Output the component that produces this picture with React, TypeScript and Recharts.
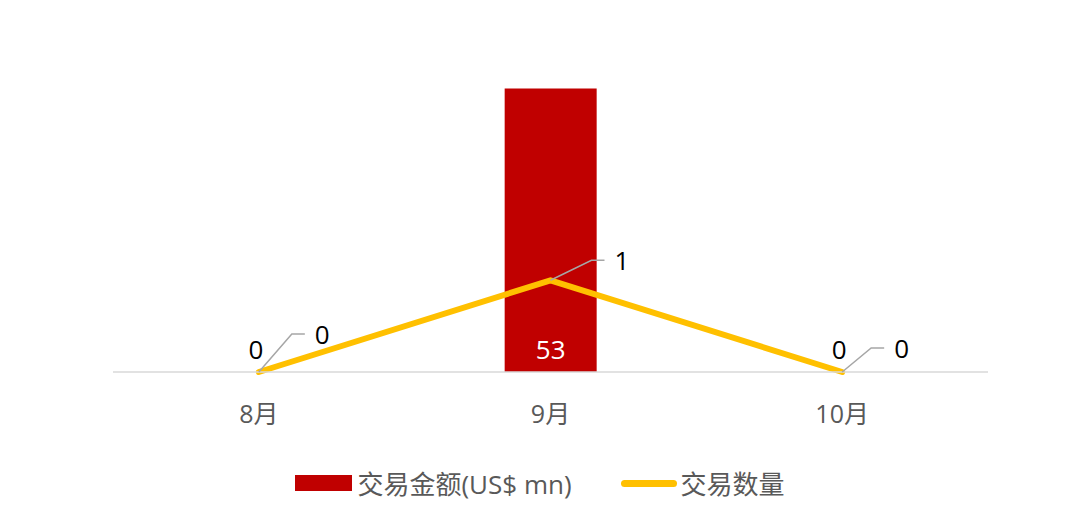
import React from "react";
import { ComposedChart, Bar, Line, XAxis, YAxis, Legend, LabelList } from "recharts";

const months = ["8月", "9月", "10月"];
const dealAmount = [0, 53, 0];
const dealCount = [0, 1, 0];

const RED = "#C00000";
const GOLD = "#FFC000";
const FONT = "'Open Sans', 'Noto Sans CJK SC', sans-serif";

const data = months.map((m, i) => ({ month: m, amount: dealAmount[i], count: dealCount[i] }));

// leader-line offsets for the count labels, as placed in the original
const leaders = [
  { dx: 33, dy: -38 },
  { dx: 41, dy: -20 },
  { dx: 29, dy: -24 },
];

// labels inside the bars (non-zero values)
const AmountLabel = (props: any) => {
  const { x, y, width, height, value } = props;
  if (!value) return null;
  return (
    <text x={x + width / 2} y={y + height - 23} textAnchor="middle" dominantBaseline="central" fill="#fff" fontSize={26} fontFamily={FONT}>
      {value}
    </text>
  );
};

// zero-value bar labels sit just above the axis
const ZeroAmountLabel = (props: any) => {
  const { x, y, value } = props;
  if (value !== 0) return null;
  return (
    <text x={x - 3} y={y - 23} textAnchor="middle" dominantBaseline="central" fill="#000" fontSize={26} fontFamily={FONT}>
      {value}
    </text>
  );
};

const CountLabel = (props: any) => {
  const { x, y, value, index } = props;
  const o = leaders[index] || { dx: 30, dy: -25 };
  const ex = x + o.dx;
  const ey = y + o.dy;
  return (
    <g>
      <path d={`M${x},${y}L${ex},${ey}L${ex + 13},${ey}`} stroke="#a6a6a6" strokeWidth={1.5} fill="none" />
      <text x={ex + 23} y={ey} textAnchor="start" dominantBaseline="central" fill="#000" fontSize={26} fontFamily={FONT}>
        {value}
      </text>
    </g>
  );
};

const LegendContent = () => (
  <div style={{ display: "flex", justifyContent: "center", alignItems: "center", height: 34, fontFamily: FONT, fontSize: 26, color: "#595959" }}>
    <span style={{ display: "inline-block", width: 57, height: 16, background: RED, marginRight: 5 }} />
    <span>交易金额(US$ mn)</span>
    <span style={{ display: "inline-block", width: 56, height: 7, borderRadius: 4, background: GOLD, marginLeft: 49, marginRight: 4 }} />
    <span>交易数量</span>
  </div>
);

export default function App() {
  return (
    <div style={{ position: "absolute", left: 0, top: 0, width: 1080, height: 528, background: "#fff" }}>
      <ComposedChart width={1080} height={528} data={data} margin={{ top: 51, right: 92, left: 113, bottom: 0 }}>
        <XAxis
          dataKey="month"
          height={122}
          tickLine={false}
          tickSize={0}
          tickMargin={33}
          axisLine={{ stroke: "#d9d9d9", strokeWidth: 1.5 }}
          tick={{ fill: "#595959", fontSize: 25, fontFamily: FONT }}
        />
        <YAxis yAxisId="amt" hide domain={[0, 60]} />
        <YAxis yAxisId="cnt" hide orientation="right" domain={[0, 3.5]} />
        <Bar yAxisId="amt" dataKey="amount" fill={RED} barSize={92} isAnimationActive={false}>
          <LabelList dataKey="amount" content={AmountLabel} />
        </Bar>
        <Line
          yAxisId="amt"
          dataKey="amount"
          stroke="none"
          dot={false}
          activeDot={false}
          legendType="none"
          isAnimationActive={false}
        >
          <LabelList dataKey="amount" content={ZeroAmountLabel} />
        </Line>
        <Line
          yAxisId="cnt"
          dataKey="count"
          stroke={GOLD}
          strokeWidth={6}
          strokeLinecap="round"
          strokeLinejoin="round"
          dot={false}
          isAnimationActive={false}
        >
          <LabelList dataKey="count" content={CountLabel} />
        </Line>
        <Legend
          verticalAlign="bottom"
          content={LegendContent}
          wrapperStyle={{ top: 466, bottom: "auto", left: 0, width: 1080 }}
        />
      </ComposedChart>
    </div>
  );
}
